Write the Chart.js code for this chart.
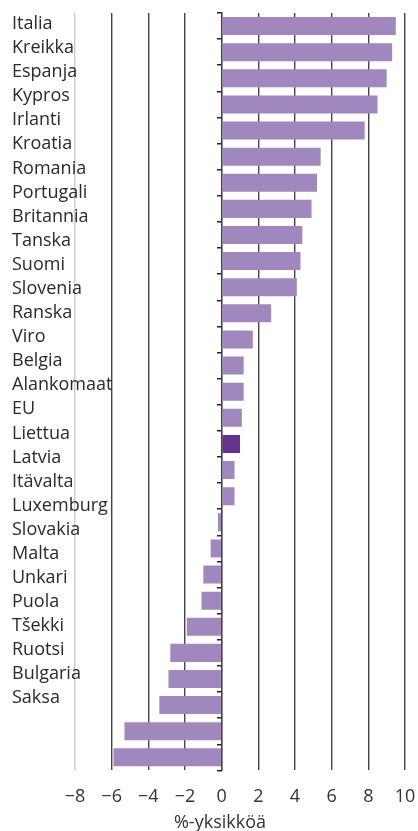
<!DOCTYPE html>
<html>
<head>
<meta charset="utf-8">
<script src="https://cdn.jsdelivr.net/npm/chart.js@4"></script>
<style>
  html, body { margin: 0; padding: 0; background: #fff; }
  #wrap { position: relative; width: 418px; height: 831px; }
  #axisTitle { position: absolute; left: 120px; width: 200px; top: 810px; text-align: center;
    font: 18px "Open Sans", sans-serif; color: #333; line-height: 22px; }
</style>
</head>
<body>
<div id="wrap">
  <canvas id="c" width="418" height="831"></canvas>
  <div id="axisTitle">%-yksikköä</div>
</div>
<script>
const countries = ["Italia","Kreikka","Espanja","Kypros","Irlanti","Kroatia","Romania","Portugali","Britannia","Tanska","Suomi","Slovenia","Ranska","Viro","Belgia","Alankomaat","EU","Liettua","Latvia","Itävalta","Luxemburg","Slovakia","Malta","Unkari","Puola","Tšekki","Ruotsi","Bulgaria","Saksa"];
const values = [9.5, 9.3, 9.0, 8.5, 7.8, 5.4, 5.2, 4.9, 4.4, 4.3, 4.1, 2.7, 1.7, 1.2, 1.2, 1.1, 1.0, 0.7, 0.7, -0.2, -0.6, -1.0, -1.1, -1.9, -2.8, -2.9, -3.4, -5.3, -5.9];
const highlightIndex = 16;
const xTicks = [-8, -6, -4, -2, 0, 2, 4, 6, 8, 10];

const LIGHT = '#a088bf';
const DARK = '#66338b';
const FONT = '"Open Sans", sans-serif';

new Chart(document.getElementById('c'), {
  type: 'bar',
  data: {
    labels: countries.map((_, i) => String(i)),
    datasets: [{
      data: values,
      backgroundColor: values.map((_, i) => i === highlightIndex ? DARK : LIGHT),
      borderWidth: 0,
      barPercentage: 0.69,
      categoryPercentage: 1.0,
      xAxisID: 'x',
      yAxisID: 'y'
    }]
  },
  options: {
    indexAxis: 'y',
    responsive: false,
    animation: false,
    layout: { padding: { top: 13, left: 12, right: 13, bottom: 7 } },
    plugins: { legend: { display: false }, tooltip: { enabled: false } },
    scales: {
      x: {
        type: 'linear',
        position: 'bottom',
        min: -8, max: 10,
        afterBuildTicks: (s) => { s.ticks = xTicks.map(v => ({ value: v })); },
        afterFit: (s) => { s.paddingRight = 0; s.paddingLeft = 0; },
        ticks: {
          font: { family: FONT, size: 18 },
          color: '#333',
          padding: 16,
          callback: (v) => (v < 0 ? '\u2212' + Math.abs(v) : String(v))
        },
        grid: {
          drawTicks: false,
          color: (ctx) => ctx.tick && ctx.tick.value === -8 ? '#cccccc' : (ctx.tick && ctx.tick.value === 0 ? '#999' : '#444'),
          lineWidth: 1.4
        },
        border: { display: false }
      },
      y: {
        type: 'category',
        position: { x: 0 },
        offset: true,
        ticks: { display: false },
        grid: { drawOnChartArea: false, drawTicks: true, tickLength: 4, tickColor: '#222', lineWidth: 1.5, offset: true },
        border: { display: true, color: '#444', width: 1.5 }
      },
      yl: {
        type: 'linear',
        position: 'left',
        reverse: true,
        offset: false,
        min: -0.45, max: 30.99,
        afterBuildTicks: (s) => { s.ticks = countries.map((_, i) => ({ value: i })); },
        afterFit: (s) => { s.width = 63; },
        ticks: {
          autoSkip: false,
          mirror: true,
          crossAlign: 'near',
          padding: -63,
          font: { family: FONT, size: 18 },
          color: '#2a2a2a',
          callback: (v) => countries[v]
        },
        grid: { display: false },
        border: { display: false }
      }
    }
  }
});
</script>
</body>
</html>
